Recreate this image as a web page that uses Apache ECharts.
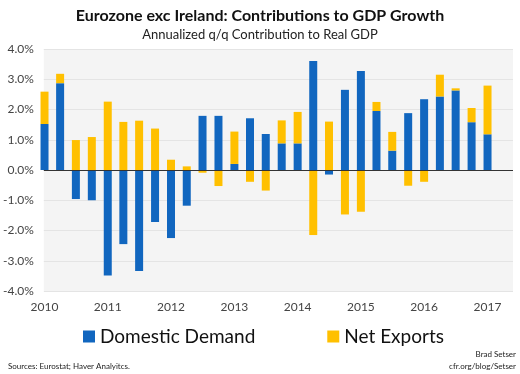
<!DOCTYPE html>
<html>
<head>
<meta charset="utf-8">
<script src="https://cdn.jsdelivr.net/npm/echarts@6/dist/echarts.min.js"></script>
<style>
html,body{margin:0;padding:0;background:#fff;}
#chart{width:520px;height:374px;}
</style>
</head>
<body>
<div id="chart"></div>
<script>
const quarters = ['2010Q1','2010Q2','2010Q3','2010Q4','2011Q1','2011Q2','2011Q3','2011Q4',
  '2012Q1','2012Q2','2012Q3','2012Q4','2013Q1','2013Q2','2013Q3','2013Q4',
  '2014Q1','2014Q2','2014Q3','2014Q4','2015Q1','2015Q2','2015Q3','2015Q4',
  '2016Q1','2016Q2','2016Q3','2016Q4','2017Q1'];
const domesticDemand = [1.52,2.87,-0.96,-1.00,-3.49,-2.45,-3.34,-1.72,
  -2.25,-1.18,1.79,1.79,0.20,1.71,1.19,0.88,
  0.88,3.60,-0.15,2.65,3.27,1.95,0.64,1.88,
  2.34,2.43,2.63,1.58,1.18];
const netExports = [1.07,0.31,0.99,1.09,2.26,1.59,1.63,1.37,
  0.34,0.12,-0.09,-0.53,1.07,-0.39,-0.68,0.76,
  1.04,-2.15,1.60,-1.47,-1.38,0.30,0.62,-0.52,
  -0.39,0.72,0.07,0.47,1.61];
const yearTicks = [2010,2011,2012,2013,2014,2015,2016,2017];
const yTicks = [-4,-3,-2,-1,0,1,2,3,4];

function qDate(q){
  const y = parseInt(q.slice(0,4),10), k = parseInt(q.slice(5),10);
  return Date.UTC(y, (k-1)*3, 1);
}
const ddData = quarters.map((q,i)=>[qDate(q), domesticDemand[i]]);
const nxData = quarters.map((q,i)=>[qDate(q), netExports[i]]);
const YEAR_MS = 365.25*24*3600*1000;

const FONT = 'Lato, "Open Sans", sans-serif';
const chart = echarts.init(document.getElementById('chart'), null, {renderer:'canvas', useUTC:true});
chart.setOption({
  animation:false,
  useUTC:true,
  backgroundColor:'#fff',
  title:[{
    text:'Eurozone exc Ireland: Contributions to GDP Growth',
    left:'center', top:3,
    textStyle:{fontFamily:FONT, fontSize:16, fontWeight:'bold', color:'#111'}
  },{
    text:'Annualized q/q Contribution to Real GDP',
    left:'center', top:23,
    textStyle:{fontFamily:FONT, fontSize:13, fontWeight:'normal', color:'#222'}
  }],
  grid:{left:42, right:7, top:49, bottom:83, show:true, backgroundColor:'#f4f4f4', borderWidth:0},
  legend:{
    left:83, top:327, padding:0, itemWidth:12, itemHeight:12, itemGap:72,
    icon:'rect',
    textStyle:{fontFamily:FONT, fontSize:19, color:'#111'},
    data:['Domestic Demand','Net Exports']
  },
  xAxis:{
    type:'time', min:Date.UTC(2010,0,20), max:Date.UTC(2017,4,5),
    splitNumber:8, minInterval:YEAR_MS*0.9, maxInterval:YEAR_MS*1.1,
    axisLine:{show:false}, axisTick:{show:false}, splitLine:{show:false},
    axisLabel:{
      formatter:function(v){
        const d = new Date(v);
        const y = d.getUTCFullYear();
        return (d.getUTCMonth()===0 && d.getUTCDate()===1 && yearTicks.indexOf(y)>=0) ? String(y) : '';
      },
      color:'#444', fontFamily:FONT, fontSize:12, margin:10, hideOverlap:false,
      showMinLabel:true, showMaxLabel:true}
  },
  yAxis:{
    type:'value', min:yTicks[0], max:yTicks[yTicks.length-1], interval:1,
    axisLine:{show:false}, axisTick:{show:false},
    splitLine:{lineStyle:{color:'#e4e4e4', width:1}},
    axisLabel:{formatter:v=>v.toFixed(1)+'%', color:'#444', fontFamily:FONT, fontSize:12, margin:10}
  },
  series:[{
    name:'Domestic Demand', type:'bar', stack:'gdp', barWidth:8,
    itemStyle:{color:'#1166bf'}, data:ddData,
    markLine:{silent:true, symbol:'none', label:{show:false},
      lineStyle:{color:'#333', width:1, type:'solid'}, data:[{yAxis:0}]}
  },{
    name:'Net Exports', type:'bar', stack:'gdp', barWidth:8,
    itemStyle:{color:'#ffc000'}, data:nxData
  }],
  graphic:[{
    type:'text', left:8, top:362,
    style:{text:'Sources: Eurostat; Haver Analyitcs.', fontFamily:FONT, fontSize:8, fill:'#222'}
  },{
    type:'text', right:4, top:350,
    style:{text:'Brad Setser', fontFamily:FONT, fontSize:8, fill:'#222', align:'right'}
  },{
    type:'text', right:4, top:362,
    style:{text:'cfr.org/blog/Setser', fontFamily:FONT, fontSize:8, fill:'#222', align:'right'}
  }]
});
</script>
</body>
</html>
